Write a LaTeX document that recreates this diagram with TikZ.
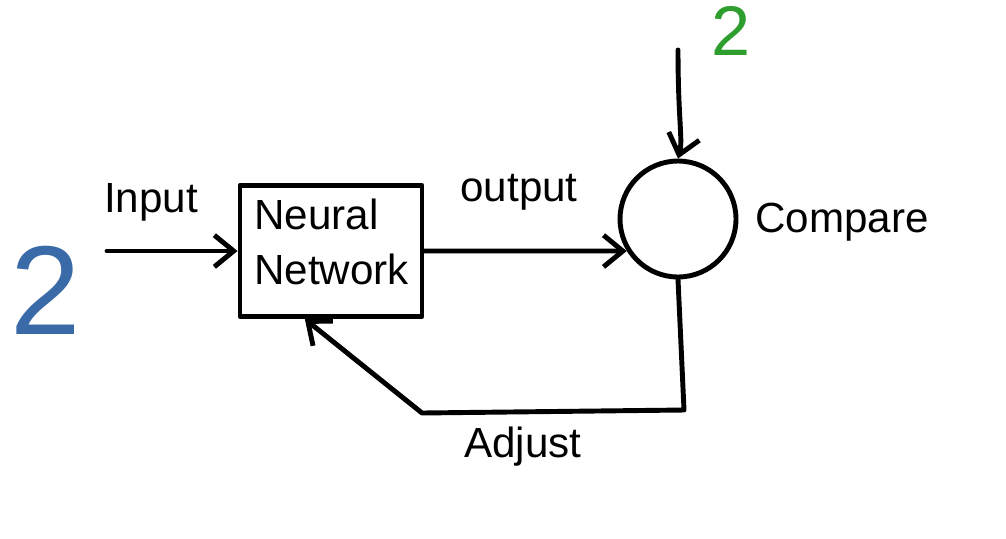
\documentclass[tikz,border=0pt]{standalone}
\usepackage{fontspec}
\setmainfont{Liberation Sans}
\usetikzlibrary{arrows.meta,calc}
\definecolor{inkblue}{HTML}{3A6BA8}
\definecolor{inkgreen}{HTML}{2E9E2E}
\tikzset{
  ink/.style={line width=2.8pt, line cap=round, line join=round, black},
  arr/.style={ink, -{Straight Barb[length=11pt,width=18pt,line width=2.8pt]}},
  lbl/.style={font=\fontsize{24}{27}\selectfont, inner sep=0pt},
}
\begin{document}
\begin{tikzpicture}[x=0.02cm,y=-0.02cm]
\useasboundingbox (0,0) rectangle (1006,538);
\node[ink, draw, minimum width=3.64cm, minimum height=2.62cm, inner sep=0pt] (nn) at (331,251) {};
\node[lbl, align=left, anchor=west] (nntext) at (254,242) {Neural\\[4pt]Network};
\node[ink, draw, circle, minimum size=2.32cm, inner sep=0pt] (cmp) at (678,219) {};
\coordinate (in) at (107,251);
\coordinate (top) at (678,50);
\coordinate (c1) at (684,410);
\coordinate (c2) at (422,413);
\draw[arr] (in) -- (nn.west);
\draw[arr] (nn.east) -- (cmp.212);
\draw[arr] (top) .. controls (678,120) and (683,140) .. (cmp.north);
\draw[arr] (cmp.south) -- (c1) -- (c2) -- ($(nn.south west)!0.36!(nn.south east)$);
\node[lbl] (linput) at (151,202) {Input};
\node[lbl] (loutput) at (519,192) {output};
\node[lbl, anchor=west] (lcmp) at (755,222) {Compare};
\node[lbl] (ladj) at (523,447) {Adjust};
\node[font=\fontsize{72}{74}\selectfont, text=inkblue, inner sep=0pt] (two1) at (46,290) {2};
\node[font=\fontsize{40}{44}\selectfont, text=inkgreen, inner sep=0pt] (two2) at (731,31) {2};
\end{tikzpicture}
\end{document}
